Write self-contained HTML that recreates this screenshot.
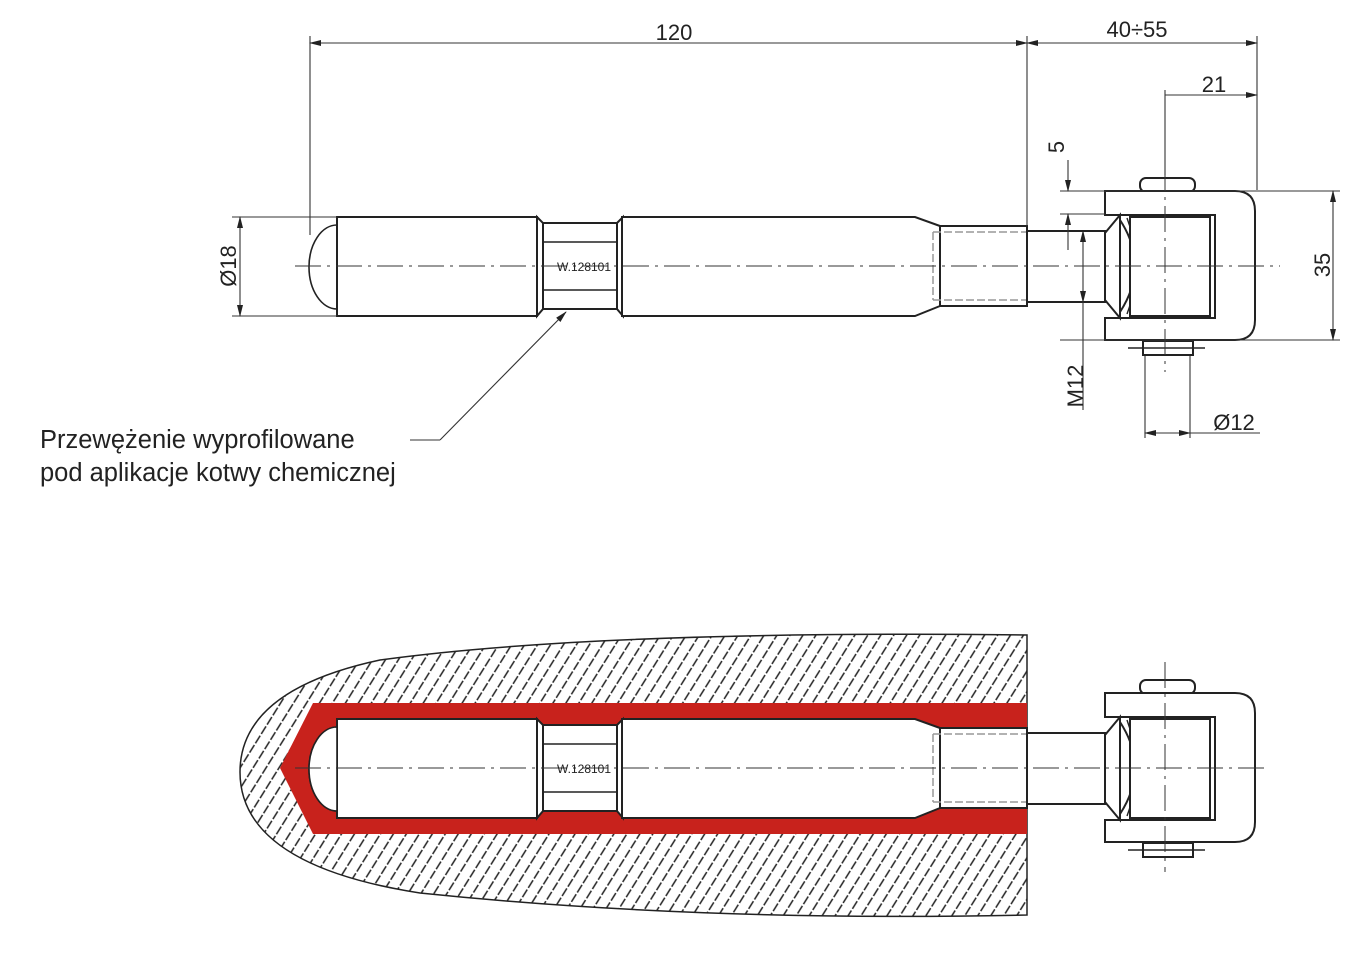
<!DOCTYPE html>
<html><head><meta charset="utf-8"><style>
html,body{margin:0;padding:0;background:#fff;width:1371px;height:959px;overflow:hidden}
svg{display:block}
text{font-family:"Liberation Sans",sans-serif;fill:#222}
</style></head><body>
<svg width="1371" height="959" viewBox="0 0 1371 959" xmlns="http://www.w3.org/2000/svg">
<defs>
<pattern id="h" width="11" height="11" patternUnits="userSpaceOnUse" patternTransform="rotate(-58)">
<line x1="0" y1="5.5" x2="11" y2="5.5" stroke="#222" stroke-width="1.5" stroke-dasharray="9 2 1.5 2"/>
</pattern>
<marker id="a" markerWidth="12" markerHeight="8" refX="11" refY="4" orient="auto-start-reverse" markerUnits="userSpaceOnUse"><path d="M0,1 L12,4 L0,7 Z" fill="#222"/></marker>
<g id="rod" fill="#fff" stroke="#222" stroke-width="2">
<path d="M337,225 A28,42 0 0 0 337,309" fill="none" stroke-width="1.6"/>
<rect x="337" y="217" width="200" height="99"/>
<path d="M537,217 L543,223 L543,309 L537,316 Z"/>
<rect x="543" y="223" width="74" height="86"/>
<line x1="543" y1="242" x2="617" y2="242" stroke-width="1.5"/>
<line x1="543" y1="290" x2="617" y2="290" stroke-width="1.5"/>
<path d="M617,223 L623,217 L623,316 L617,309 Z"/>
<path d="M622,217 L915,217 L940,226 L940,306 L915,316 L622,316 Z"/>
<rect x="940" y="226" width="87" height="80"/>
<path d="M933,232 L1027,232 M933,300 L1027,300 M933,232 L933,300" stroke="#999" stroke-width="1.5" stroke-dasharray="8 3" fill="none"/>
<rect x="1027" y="231" width="78" height="71"/>
<rect x="1140" y="178" width="55" height="14" rx="6"/>
<path d="M1105,191 L1235,191 Q1255,191 1255,211 L1255,320 Q1255,340 1235,340 L1105,340 L1105,318 L1120,318 L1120,215 L1105,215 Z"/>
<rect x="1120" y="215" width="95" height="103"/>
<path d="M1105,233 L1120,215 L1120,318 L1105,300 Z" />
<path d="M1120,220 Q1150,266 1120,312" fill="none"/>
<path d="M1127,218 Q1145,266 1127,314" fill="none" stroke-width="1.4"/>
<rect x="1130" y="217" width="80" height="99"/>
<rect x="1143" y="341" width="50" height="14"/>
<line x1="1128" y1="348" x2="1205" y2="348" stroke-width="1.5"/>
</g>
</defs>

<use href="#rod"/>
<g stroke="#333" stroke-width="1" stroke-dasharray="26 6 3 6" fill="none">
<line x1="295" y1="266" x2="1280" y2="266"/>
<line x1="1165" y1="165" x2="1165" y2="372"/>
</g>
<text x="584" y="271" font-size="12" text-anchor="middle">W.128101</text>

<g stroke="#333" stroke-width="1.1" fill="none">
<line x1="310" y1="36" x2="310" y2="235"/>
<line x1="1027" y1="36" x2="1027" y2="226"/>
<line x1="1257" y1="36" x2="1257" y2="190"/>
<line x1="310" y1="43" x2="1027" y2="43" marker-start="url(#a)" marker-end="url(#a)"/>
<line x1="1027" y1="43" x2="1257" y2="43" marker-start="url(#a)" marker-end="url(#a)"/>
<line x1="1165" y1="95" x2="1257" y2="95" marker-end="url(#a)"/>
<line x1="1165" y1="90" x2="1165" y2="175"/>
<line x1="232" y1="217" x2="337" y2="217"/>
<line x1="232" y1="316" x2="337" y2="316"/>
<line x1="240" y1="217" x2="240" y2="316" marker-start="url(#a)" marker-end="url(#a)"/>
<line x1="1060" y1="191" x2="1340" y2="191"/>
<line x1="1060" y1="340" x2="1340" y2="340"/>
<line x1="1333" y1="191" x2="1333" y2="340" marker-start="url(#a)" marker-end="url(#a)"/>
<line x1="1060" y1="214" x2="1105" y2="214"/>
<line x1="1068" y1="160" x2="1068" y2="191" marker-end="url(#a)"/>
<line x1="1068" y1="250" x2="1068" y2="214" marker-end="url(#a)"/>
<line x1="1083" y1="266" x2="1083" y2="231" marker-end="url(#a)"/>
<line x1="1083" y1="266" x2="1083" y2="302" marker-end="url(#a)"/>
<line x1="1083" y1="302" x2="1083" y2="410"/>
<line x1="1145" y1="356" x2="1145" y2="438"/>
<line x1="1190" y1="356" x2="1190" y2="438"/>
<line x1="1145" y1="433" x2="1165" y2="433" marker-start="url(#a)"/>
<line x1="1165" y1="433" x2="1190" y2="433" marker-end="url(#a)"/>
<line x1="1190" y1="433" x2="1260" y2="433"/>
<line x1="410" y1="440" x2="440" y2="440"/>
<line x1="440" y1="440" x2="566" y2="312" marker-end="url(#a)"/>
</g>
<text x="674" y="40" font-size="22" text-anchor="middle">120</text>
<text x="1137" y="37" font-size="22" text-anchor="middle">40÷55</text>
<text x="1214" y="92" font-size="22" text-anchor="middle">21</text>
<text x="1234" y="430" font-size="22" text-anchor="middle">Ø12</text>
<text transform="translate(236,266) rotate(-90)" font-size="22" text-anchor="middle">Ø18</text>
<text transform="translate(1330,265) rotate(-90)" font-size="22" text-anchor="middle">35</text>
<text transform="translate(1064,147) rotate(-90)" font-size="22" text-anchor="middle">5</text>
<text transform="translate(1083,386) rotate(-90)" font-size="22" text-anchor="middle">M12</text>
<text x="40" y="448" font-size="25.5">Przewężenie wyprofilowane</text>
<text x="40" y="481" font-size="25.5">pod aplikacje kotwy chemicznej</text>

<path d="M1027,635 L1027,915 Q700,922 420,893 Q240,865 240,772 Q240,690 380,660 Q600,630 1027,635 Z" fill="url(#h)" stroke="#222" stroke-width="1.5"/>
<path d="M280,768 L313,703 L1027,703 L1027,834 L313,834 Z" fill="#c8221c"/>
<g transform="translate(0,502)">
<use href="#rod"/>
<path d="M337,225 A28,42 0 0 0 337,309 Z" fill="#fff" stroke="#222" stroke-width="1.6"/>
</g>
<g stroke="#333" stroke-width="1" stroke-dasharray="26 6 3 6" fill="none">
<line x1="295" y1="768" x2="1270" y2="768"/>
<line x1="1165" y1="662" x2="1165" y2="872"/>
</g>
<text x="584" y="773" font-size="12" text-anchor="middle">W.128101</text>
</svg>
</body></html>
